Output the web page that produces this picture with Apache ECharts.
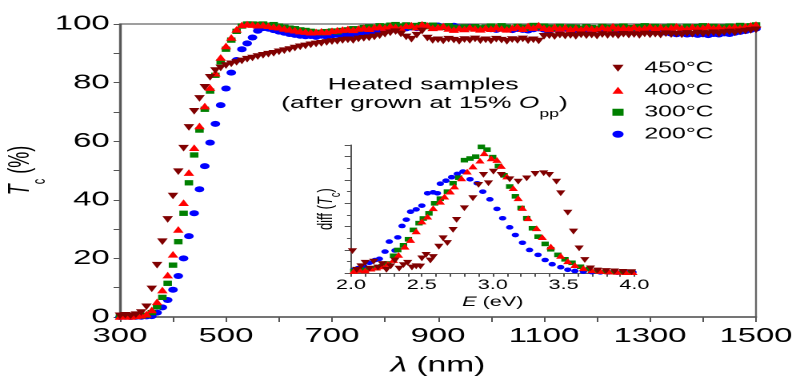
<!DOCTYPE html>
<html><head><meta charset="utf-8">
<script src="https://cdn.jsdelivr.net/npm/echarts@6.0.0/dist/echarts.min.js"></script>
<style>
html,body{margin:0;padding:0;background:#fff;overflow:hidden}
#wrap{width:798px;height:383px;overflow:hidden;position:relative;background:#fff}
#chart{width:499px;height:383px;transform:scaleX(1.6);transform-origin:0 0}
</style></head><body>
<div id="wrap"><div id="chart"></div></div>
<script>
// ---------- data ----------
const seriesNames = ['450°C', '400°C', '300°C', '200°C'];

const wavelength = [
 300,310,320,330,340,350,360,370,380,390,
 400,410,420,430,440,450,460,470,480,490,
 500,510,520,530,540,550,560,570,580,590,
 600,610,620,630,640,650,660,670,680,690,
 700,710,720,730,740,750,760,770,780,790,
 800,810,820,830,840,850,860,870,880,890,
 900,910,920,930,940,950,960,970,980,990,
 1000,1010,1020,1030,1040,1050,1060,1070,1080,1090,
 1100,1110,1120,1130,1140,1150,1160,1170,1180,1190,
 1200,1210,1220,1230,1240,1250,1260,1270,1280,1290,
 1300,1310,1320,1330,1340,1350,1360,1370,1380,1390,
 1400,1410,1420,1430,1440,1450,1460,1470,1480,1490,
 1500];

const t450 = [
 0.4,0.6,0.4,0.8,1.5,3.5,9.6,17.7,25.7,33.3,
 41.3,49.6,57.6,64.7,70.2,74.6,78.4,81.8,84.1,85.0,
 85.8,86.4,86.9,87.4,88.0,88.4,88.9,89.3,89.7,90.0,
 90.5,90.9,91.3,91.8,92.2,92.5,92.9,93.2,93.4,93.7,
 94.0,94.1,94.4,94.6,94.4,94.9,95.1,95.3,95.6,96.0,
 96.5,97.0,97.4,96.6,95.6,94.8,96.2,97.6,95.2,94.4,
 94.6,94.2,94.8,94.5,94.1,94.7,94.4,94.9,94.3,94.6,
 94.2,94.8,94.5,94.1,94.7,94.4,94.9,94.3,94.6,94.2,
 95.8,96.0,95.7,96.2,95.9,96.1,95.8,96.3,96.0,96.2,
 95.9,96.4,96.1,96.3,96.0,96.5,96.2,96.4,96.1,96.6,
 96.3,96.5,96.2,96.7,96.4,96.6,96.3,96.8,96.5,96.9,
 96.6,96.8,97.0,96.7,97.1,97.3,97.0,97.4,97.6,97.8,
 98.0];

const t400 = [
 0.2,0.3,0.2,0.4,0.6,1.0,2.4,5.2,9.2,14.3,
 21.4,29.9,39.0,49.3,57.8,65.2,72.0,78.3,83.2,88.6,
 92.5,95.4,98.2,99.7,100,99.8,99.6,99.7,99.4,99.1,
 98.9,98.5,98.2,97.9,97.6,97.4,97.2,97.3,97.5,97.3,
 97.7,97.9,98.1,98.3,98.0,98.5,98.7,98.4,98.9,99.1,
 98.8,99.3,99.0,98.6,99.4,99.6,98.9,99.9,99.5,98.7,
 98.9,99.3,98.5,98.1,98.6,98.3,98.9,98.5,98.2,98.7,
 98.4,98.9,98.5,98.2,98.7,99.1,98.4,99.3,98.8,99.6,
 98.7,98.4,99.0,98.5,98.9,98.3,98.7,98.2,98.8,98.5,
 98.3,98.9,98.4,99.2,98.6,98.8,98.5,99.0,98.4,98.7,
 99.1,98.6,98.9,98.5,98.8,99.2,98.7,98.4,99.0,98.6,
 98.8,99.3,98.7,99.0,98.5,98.8,99.1,98.8,99.2,99.5,
 99.8];

const t300 = [
 0.1,0.2,0.1,0.2,0.3,0.6,1.5,3.5,6.7,11.5,
 17.7,25.7,35.4,45.8,55.3,63.8,70.9,77.1,82.5,87.1,
 91.4,94.5,97.5,99.3,100,100,99.9,100,99.6,99.8,
 99.3,98.9,98.6,98.4,98.0,97.8,97.5,97.2,97.0,97.4,
 97.6,97.3,97.8,98.0,98.4,98.2,98.8,99.0,98.7,99.4,
 99.2,99.6,99.8,99.3,99.7,99.0,99.5,99.8,99.1,99.6,
 99.2,98.8,99.4,98.9,98.4,99.0,98.6,99.1,98.7,98.9,
 99.3,98.8,99.4,98.9,98.5,99.2,98.9,98.6,99.5,99.0,
 99.3,98.9,98.5,99.2,98.7,99.0,98.9,98.6,99.1,98.8,
 98.6,99.2,98.9,98.5,99.0,99.3,98.8,98.6,99.1,99.4,
 98.9,99.2,98.7,99.0,99.3,98.9,98.6,99.2,98.8,99.1,
 99.4,98.9,99.2,98.7,99.0,99.3,98.9,99.5,99.1,99.4,
 99.7];

const t200 = [
 0.0,0.1,0.0,0.1,0.1,0.2,0.3,1.5,3.3,5.8,
 9.3,14.0,20.0,27.6,35.4,43.6,51.5,59.5,65.9,72.3,
 78.0,83.4,87.7,91.4,93.4,95.4,97.7,98.6,98.4,97.9,
 97.4,97.0,96.6,96.3,96.0,95.8,95.9,95.6,96.0,95.7,
 96.1,96.3,96.1,96.5,96.4,96.7,96.9,96.6,97.1,97.4,
 97.6,97.9,98.2,98.0,98.5,98.8,98.6,99.0,99.3,99.1,
 99.5,99.2,98.9,99.4,98.8,98.5,99.0,98.7,98.3,98.6,
 98.2,98.0,98.4,98.1,97.9,98.3,98.0,97.8,98.2,98.5,
 98.1,97.9,98.3,98.0,98.4,98.1,97.8,98.2,98.0,97.7,
 98.1,97.9,98.3,98.0,97.6,97.9,97.7,97.4,97.8,97.5,
 97.3,97.6,97.2,97.0,96.7,96.5,96.8,96.4,96.6,96.3,
 96.5,96.2,96.6,96.4,96.8,96.6,97.0,97.3,97.6,98.0,
 98.4];

// inset: diff(Tc) vs photon energy E (eV), in units of inset tick spacing
const e450 = [2.01,2.04,2.07,2.10,2.13,2.16,2.19,2.22,2.25,2.28,2.31,2.34,2.37,2.40,2.43,2.46,2.49,2.50,2.53,2.56,2.58,2.62,2.65,2.68,2.72,2.745,2.80,2.86,2.90,2.935,2.97,3.005,3.06,3.12,3.18,3.24,3.30,3.36,3.40,3.45,3.48,3.53,3.57,3.61,3.65,3.69,3.74,3.80,3.86,3.92,3.98];
const d450 = [0.95,0.15,0.30,0.45,0.20,0.50,0.25,0.40,0.15,0.30,0.55,0.20,0.35,0.45,0.25,0.30,0.29,0.64,0.79,0.55,0.70,1.14,1.50,1.30,1.86,2.29,2.79,3.22,3.79,4.22,3.86,4.36,4.22,4.03,3.93,4.07,4.26,4.29,4.22,3.93,3.43,2.60,1.79,1.07,0.57,0.21,0.12,0.10,0.08,0.06,0.05];

const e400 = [2.02,2.06,2.10,2.14,2.18,2.22,2.26,2.30,2.335,2.38,2.42,2.46,2.50,2.54,2.58,2.63,2.66,2.70,2.73,2.78,2.82,2.86,2.91,2.94,2.99,3.03,3.06,3.10,3.145,3.18,3.21,3.25,3.31,3.35,3.41,3.48,3.53,3.58,3.64,3.70,3.76,3.82,3.88,3.94,3.99];
const d400 = [0.10,0.15,0.12,0.20,0.25,0.30,0.40,0.57,0.79,1.14,1.43,1.80,2.22,2.43,2.79,3.07,3.29,3.50,3.72,4.07,4.36,4.58,4.83,5.15,4.93,4.86,4.60,4.15,3.65,3.22,2.80,2.36,1.93,1.55,1.15,0.75,0.52,0.35,0.22,0.13,0.10,0.08,0.06,0.05,0.05];

const e300 = [2.02,2.06,2.10,2.14,2.18,2.22,2.26,2.30,2.33,2.37,2.405,2.44,2.48,2.51,2.55,2.59,2.63,2.68,2.72,2.76,2.80,2.84,2.88,2.92,2.96,3.00,3.04,3.08,3.12,3.16,3.20,3.24,3.28,3.32,3.37,3.41,3.46,3.51,3.56,3.62,3.68,3.74,3.80,3.86,3.92,3.98];
const d300 = [0.10,0.12,0.15,0.20,0.22,0.30,0.42,0.75,1.00,1.20,1.46,1.86,2.15,2.35,2.57,3.00,3.20,3.50,3.86,4.10,4.85,4.92,5.00,5.42,5.30,4.98,4.60,4.20,3.72,3.30,2.80,2.36,1.93,1.57,1.26,1.03,0.79,0.60,0.45,0.28,0.18,0.10,0.07,0.05,0.05,0.05];

const e200 = [2.02,2.05,2.09,2.13,2.17,2.20,2.24,2.27,2.31,2.33,2.36,2.39,2.42,2.46,2.50,2.54,2.58,2.61,2.63,2.67,2.71,2.75,2.79,2.84,2.89,2.93,2.98,3.03,3.07,3.12,3.16,3.21,3.26,3.32,3.37,3.42,3.48,3.53,3.58,3.64,3.70,3.76,3.82,3.88,3.94,3.99];
const d200 = [0.15,0.22,0.30,0.45,0.57,0.62,0.93,1.36,0.98,1.54,2.03,2.30,2.64,2.74,2.90,3.43,3.47,3.43,3.84,3.97,4.12,4.26,4.36,4.03,3.86,3.50,3.17,2.76,2.36,1.97,1.64,1.31,1.00,0.79,0.57,0.39,0.26,0.15,0.10,0.07,0.05,0.04,0.04,0.03,0.05,0.05];

// ---------- chart ----------
const FONT = '"Liberation Sans", Arial, Helvetica, sans-serif';
const AX = '#555';
const colors = {'450°C':'#800000','400°C':'#ff0000','300°C':'#008000','200°C':'#0000ff'};
const legendIcons = {
  '450°C':'path://M0,0L10,0L5,10Z',
  '400°C':'path://M5,0L10,10L0,10Z',
  '300°C':'rect',
  '200°C':'circle'
};

function pairs(xs, ys){ return xs.map((x,i)=>[x, ys[i]]); }

function mk(name, xs, ys, idx, inset){
  const base = {
    name, type:'scatter', xAxisIndex: idx, yAxisIndex: idx,
    data: pairs(xs, ys), clip:false, animation:false,
    itemStyle:{color: colors[name], opacity:1},
    emphasis:{disabled:true}
  };
  if (name === '450°C') { base.symbol='triangle'; base.symbolRotate=180; base.symbolSize = inset?5.8:6.6; }
  else if (name === '400°C') { base.symbol='triangle'; base.symbolSize = inset?5.8:6.6; }
  else if (name === '300°C') { base.symbol='rect'; base.symbolSize = inset?4.6:5.3; }
  else { base.symbol='circle'; base.symbolSize = inset?4.6:6; }
  return base;
}

const option = {
  animation:false,
  backgroundColor:'#fff',
  textStyle:{fontFamily:FONT},
  grid:[
    {left:75, right:26.5, top:24, bottom:66, show:true, borderColor:'#666', borderWidth:1.2,
     backgroundColor:'transparent', containLabel:false, outerBoundsMode:'none'},
    {left:219.4, width:177.1, top:145, height:128.3, containLabel:false, outerBoundsMode:'none'}
  ],
  legend:{
    data: seriesNames.map(n => ({name:n, icon:legendIcons[n], itemStyle:{color:colors[n]}})),
    orient:'vertical', left:382.75, top:57.5, padding:0,
    itemWidth:7, itemHeight:7, itemGap:0.5, selectedMode:false,
    textStyle:{fontFamily:FONT, fontSize:15.5, color:'#000', lineHeight:21.5, padding:[0,0,0,8]}
  },
  xAxis:[
    {gridIndex:0, type:'value', min:300, max:1500, interval:100,
     axisLine:{show:true, lineStyle:{color:AX, width:1.5}},
     axisTick:{show:true, inside:false, length:5, lineStyle:{color:AX, width:1}},
     axisLabel:{fontFamily:FONT, fontSize:20.5, color:'#000', margin:9,
       formatter:(v)=> ((v-300)%200===0 ? String(v) : '')},
     splitLine:{show:false},
     name:'{i|λ} (nm)', nameLocation:'middle', nameGap:38, nameMoveOverlap:false,
     nameTextStyle:{fontFamily:FONT, fontSize:21, color:'#000',
       rich:{i:{fontFamily:FONT, fontSize:21, fontStyle:'italic', color:'#000'}}}
    },
    {gridIndex:1, type:'value', min:2, max:4, interval:0.1,
     axisLine:{show:true, lineStyle:{color:AX, width:1}},
     axisTick:{show:true, inside:false, length:3.5, lineStyle:{color:AX, width:1}},
     axisLabel:{fontFamily:FONT, fontSize:13.5, color:'#000', margin:5,
       formatter:(v)=>{const k=Math.round(v*10); return k%5===0 ? (k/10).toFixed(1) : '';}},
     splitLine:{show:false},
     name:'{i|E} (eV)', nameLocation:'middle', nameGap:22, nameMoveOverlap:false,
     nameTextStyle:{fontFamily:FONT, fontSize:13.5, color:'#000',
       rich:{i:{fontFamily:FONT, fontSize:13.5, fontStyle:'italic', color:'#000'}}}
    }
  ],
  yAxis:[
    {gridIndex:0, type:'value', min:0, max:100, interval:10,
     axisLine:{show:true, lineStyle:{color:AX, width:1.2}},
     axisTick:{show:true, inside:false, length:4, lineStyle:{color:AX, width:1}},
     axisLabel:{fontFamily:FONT, fontSize:20.5, color:'#000', margin:6.5,
       formatter:(v)=> (v%20===0 ? String(v) : '')},
     splitLine:{show:false},
     name:'{i|T}{s|c} (%)', nameLocation:'middle', nameGap:44.5, nameMoveOverlap:false,
     nameTextStyle:{fontFamily:FONT, fontSize:18, color:'#000', lineHeight:35,
       rich:{i:{fontFamily:FONT, fontSize:18, fontStyle:'italic', color:'#000', lineHeight:35},
             s:{fontFamily:FONT, fontSize:11, color:'#000', lineHeight:11, verticalAlign:'bottom'}}}
    },
    {gridIndex:1, type:'value', min:0, max:5.5, interval:1,
     axisLine:{show:true, lineStyle:{color:AX, width:1}},
     axisTick:{show:true, inside:false, length:4, lineStyle:{color:AX, width:1}},
     minorTick:{show:true, splitNumber:2, length:2.5, lineStyle:{color:AX, width:1}},
     axisLabel:{show:false},
     splitLine:{show:false},
     name:'diff ({i|T}{s|c})', nameLocation:'middle', nameGap:5, nameMoveOverlap:false,
     nameTextStyle:{fontFamily:FONT, fontSize:13, color:'#000', lineHeight:21,
       rich:{i:{fontFamily:FONT, fontSize:13, fontStyle:'italic', color:'#000', lineHeight:21},
             s:{fontFamily:FONT, fontSize:9, color:'#000', lineHeight:9, verticalAlign:'bottom'}}}
    }
  ],
  graphic:[
    {type:'text', x:264.5, y:85, silent:true,
     style:{text:'Heated samples', fontFamily:FONT, fontSize:16.5, fill:'#000', align:'center', verticalAlign:'middle'}},
    {type:'text', x:265.3, y:103.5, silent:true,
     style:{text:'(after grown at 15% {i|O}{s|pp})', fontFamily:FONT, fontSize:16.5, fill:'#000',
       align:'center', verticalAlign:'middle', lineHeight:32,
       rich:{i:{fontFamily:FONT, fontSize:16.5, fontStyle:'italic', fill:'#000', lineHeight:32},
             s:{fontFamily:FONT, fontSize:11, fill:'#000', lineHeight:11, verticalAlign:'bottom'}}}}
  ],
  series:[
    mk('200°C', wavelength, t200, 0, false),
    mk('300°C', wavelength, t300, 0, false),
    mk('400°C', wavelength, t400, 0, false),
    mk('450°C', wavelength, t450, 0, false),
    mk('200°C', e200, d200, 1, true),
    mk('300°C', e300, d300, 1, true),
    mk('400°C', e400, d400, 1, true),
    mk('450°C', e450, d450, 1, true)
  ]
};

const chart = echarts.init(document.getElementById('chart'), null, {renderer:'canvas', devicePixelRatio:2});
chart.setOption(option);
</script>
</body></html>
